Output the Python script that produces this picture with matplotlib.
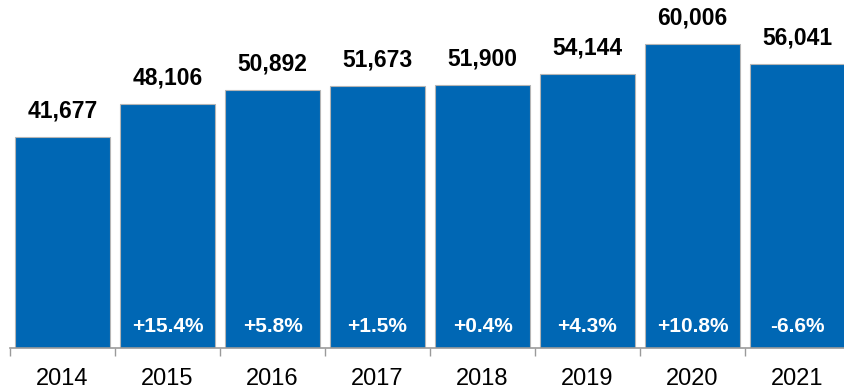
import numpy as np
import matplotlib.pyplot as plt

plt.rcParams['font.family'] = ['Liberation Sans', 'DejaVu Sans']

years = ['2014', '2015', '2016', '2017', '2018', '2019', '2020', '2021']
values = [41677, 48106, 50892, 51673, 51900, 54144, 60006, 56041]
changes = ['', '+15.4%', '+5.8%', '+1.5%', '+0.4%', '+4.3%', '+10.8%', '-6.6%']

bar_color = '#0067B4'
axis_grey = '#9A9A9A'

fig = plt.figure(figsize=(8.44, 3.91), dpi=100)
ax = fig.add_axes([10 / 844, 43 / 391, 840 / 844, 348 / 391])

x = np.arange(len(years))
ax.bar(x, values, width=0.9, color=bar_color, edgecolor='#B5B5B5', linewidth=0.8)

ax.set_xlim(-0.5, len(years) - 0.5)
ax.set_ylim(0, 68735)

# value labels on top of each bar
for xi, v in zip(x, values):
    ax.annotate(f'{v:,}', (xi, v), xytext=(0, 10.5), textcoords='offset points',
                ha='center', va='bottom', fontsize=16.5, fontweight='bold', color='black')

# year-over-year change inside the bar base
for xi, c in zip(x, changes):
    if c:
        ax.annotate(c, (xi, 0), xytext=(0, 9), textcoords='offset points',
                    ha='center', va='bottom', fontsize=15, fontweight='bold', color='white')

for s in ['top', 'right', 'left']:
    ax.spines[s].set_visible(False)
ax.spines['bottom'].set_color(axis_grey)
ax.spines['bottom'].set_linewidth(1.2)

ax.set_yticks([])
ax.set_xticks(x)
ax.set_xticklabels(years, fontsize=17)
ax.tick_params(axis='x', which='major', length=0, pad=14.5)
ax.set_xticks(np.arange(-0.5, len(years)), minor=True)
ax.tick_params(axis='x', which='minor', length=5.5, width=1, color=axis_grey)

fig.savefig('out.png', dpi=100)
